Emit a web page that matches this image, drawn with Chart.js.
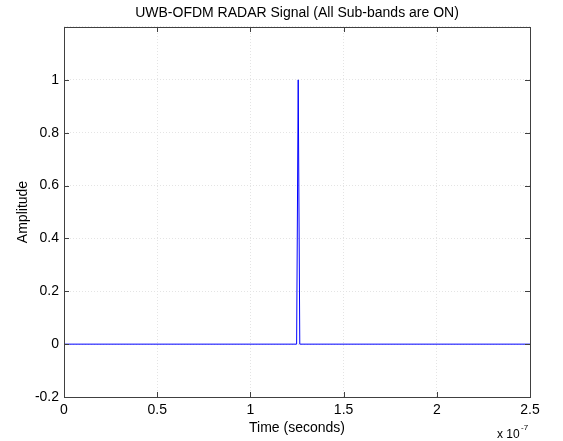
<!DOCTYPE html>
<html>
<head>
<meta charset="utf-8">
<script src="https://cdn.jsdelivr.net/npm/chart.js@4/dist/chart.umd.min.js"></script>
<style>
html,body{margin:0;padding:0;background:#fff;}
#wrap{width:563px;height:441px;position:relative;}
</style>
</head>
<body>
<div id="wrap"><canvas id="c" width="563" height="441"></canvas></div>
<script>
// Data (time in seconds, amplitude)
const timeValues = [0, 1.248e-7, 1.2565e-7, 1.265e-7, 2.5e-7];
const amplitudeValues = [0, 0, 1, 0, 0];
const xTickValues = [0, 0.5e-7, 1e-7, 1.5e-7, 2e-7, 2.5e-7];
const yTickLabels = ['-0.2', '0', '0.2', '0.4', '0.6', '0.8', '1', ''];
const chartTitle = 'UWB-OFDM RADAR Signal (All Sub-bands are ON)';
const xTitle = 'Time (seconds)';
const yTitle = 'Amplitude';

const points = timeValues.map((t, i) => ({x: t, y: amplitudeValues[i]}));
const FONT = 'Liberation Sans, Arial, Helvetica, sans-serif';

const matlabBox = {
  id: 'matlabBox',
  afterDraw(chart) {
    const {ctx, chartArea: a, scales} = chart;
    ctx.save();
    // title centred over the plot area
    ctx.fillStyle = '#000';
    ctx.font = '14px ' + FONT;
    ctx.textAlign = 'center';
    ctx.textBaseline = 'middle';
    ctx.fillText(chartTitle, (a.left + a.right) / 2, 13);
    // box
    ctx.strokeStyle = '#404040';
    ctx.lineWidth = 1;
    ctx.strokeRect(Math.round(a.left) + 0.5, Math.round(a.top) + 0.5,
                   Math.round(a.right - a.left), Math.round(a.bottom - a.top));
    // inward ticks
    const tl = 5;
    ctx.beginPath();
    scales.x.ticks.forEach(t => {
      const px = Math.round(scales.x.getPixelForValue(t.value)) + 0.5;
      ctx.moveTo(px, a.bottom); ctx.lineTo(px, a.bottom - tl);
      ctx.moveTo(px, a.top); ctx.lineTo(px, a.top + tl);
    });
    scales.y.ticks.forEach(t => {
      const py = Math.round(scales.y.getPixelForValue(t.value)) + 0.5;
      ctx.moveTo(a.left, py); ctx.lineTo(a.left + tl, py);
      ctx.moveTo(a.right, py); ctx.lineTo(a.right - tl, py);
    });
    ctx.stroke();
    // exponent label
    ctx.font = '12px ' + FONT;
    ctx.textBaseline = 'alphabetic';
    ctx.textAlign = 'left';
    ctx.fillText('x 10', 497, 438);
    ctx.font = '8px ' + FONT;
    ctx.fillText('-7', 521, 430);
    ctx.restore();
  }
};

new Chart(document.getElementById('c'), {
  type: 'scatter',
  data: {
    datasets: [{
      data: points,
      showLine: true,
      borderColor: '#0000ff',
      backgroundColor: '#0000ff',
      borderWidth: 1,
      pointRadius: 0,
      tension: 0
    }]
  },
  options: {
    responsive: false,
    animation: false,
    layout: {padding: {left: 0, right: 33, top: 27, bottom: 0}},
    plugins: {
      legend: {display: false},
      tooltip: {enabled: false},
      title: {display: false}
    },
    scales: {
      x: {
        type: 'linear',
        min: 0, max: 2.5e-7,
        afterBuildTicks(scale) { scale.ticks = xTickValues.map(v => ({value: v})); },
        afterFit(scale) { scale.height = 44; },
        border: {display: false, dash: [1, 2]},
        grid: {color: '#e4e4e4', drawTicks: false, lineWidth: 1},
        ticks: {
          color: '#000', font: {family: FONT, size: 14}, padding: 5,
          maxRotation: 0, autoSkip: false,
          callback: v => String(Math.round(v / 1e-7 * 10) / 10)
        },
        title: {display: true, text: xTitle, color: '#000',
                font: {family: FONT, size: 14}, padding: {top: 0, bottom: 4}}
      },
      y: {
        type: 'linear',
        min: -0.2, max: 1.2,
        afterBuildTicks(scale) {
          scale.ticks = yTickLabels.map((l, i) => ({value: -0.2 + 0.2 * i}));
        },
        afterFit(scale) { scale.width = 64; },
        border: {display: false, dash: [1, 2]},
        grid: {color: '#e4e4e4', drawTicks: false, lineWidth: 1},
        ticks: {
          color: '#000', font: {family: FONT, size: 14}, padding: 5, autoSkip: false,
          callback: (v, i) => yTickLabels[i]
        },
        title: {display: true, text: yTitle, color: '#000',
                font: {family: FONT, size: 14}, padding: {top: 15, bottom: 0}}
      }
    }
  },
  plugins: [matlabBox]
});
</script>
</body>
</html>
